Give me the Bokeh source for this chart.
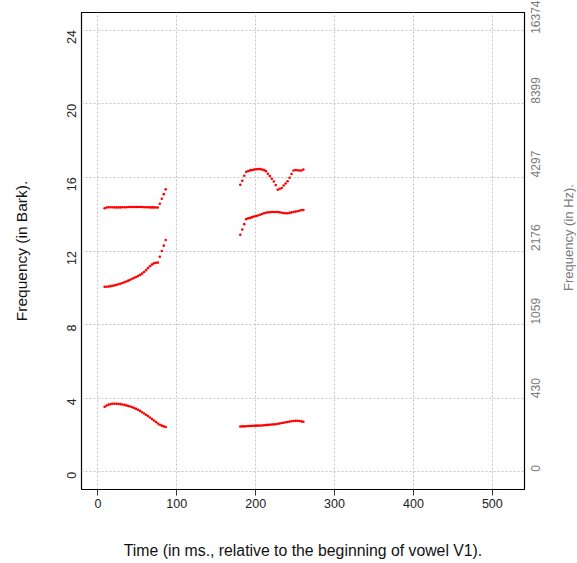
import math
from bokeh.plotting import figure
from bokeh.models import LinearAxis, FixedTicker, Range1d, Grid, Label
from bokeh.embed import file_html
from bokeh.resources import INLINE

# ---- data ----
t_v1 = [8.5, 11, 13.5, 16, 18.5, 21, 23.5, 26, 28.5, 31, 33.5, 36, 38.5, 41, 43.5, 46,
        48.5, 51, 53.5, 56, 58.5, 61, 63.5, 66, 68.5, 71, 73.5, 76, 78.5, 81, 83.5, 86]
f1_v1 = [3.53, 3.60, 3.65, 3.68, 3.70, 3.70, 3.70, 3.69, 3.68, 3.66, 3.64, 3.61, 3.58, 3.55,
         3.51, 3.47, 3.42, 3.37, 3.31, 3.24, 3.17, 3.10, 3.03, 2.95, 2.87, 2.79, 2.71, 2.63,
         2.56, 2.51, 2.47, 2.44]
f2_v1 = [10.06, 10.06, 10.07, 10.09, 10.11, 10.13, 10.16, 10.19, 10.22, 10.26, 10.30, 10.34,
         10.39, 10.44, 10.49, 10.54, 10.59, 10.64, 10.70, 10.77, 10.86, 10.96, 11.07, 11.17,
         11.26, 11.33, 11.36, 11.37, 11.69, 12.00, 12.29, 12.60]
f3_v1 = [14.32, 14.36, 14.38, 14.38, 14.38, 14.37, 14.37, 14.37, 14.37, 14.38, 14.38, 14.38,
         14.39, 14.39, 14.39, 14.39, 14.39, 14.39, 14.39, 14.39, 14.38, 14.38, 14.38, 14.37,
         14.37, 14.37, 14.36, 14.36, 14.57, 14.84, 15.09, 15.35]

t_v2 = [180.5, 183, 185.5, 188, 190.5, 193, 195.5, 198, 200.5, 203, 205.5, 208, 210.5, 213,
        215.5, 218, 220.5, 223, 225.5, 228, 230.5, 233, 235.5, 238, 240.5, 243, 245.5, 248,
        250.5, 253, 255.5, 258, 260.5]
f1_v2 = [2.46, 2.47, 2.47, 2.48, 2.49, 2.49, 2.50, 2.50, 2.51, 2.51, 2.52, 2.52, 2.53, 2.54,
         2.55, 2.56, 2.57, 2.58, 2.59, 2.61, 2.63, 2.65, 2.67, 2.69, 2.71, 2.73, 2.75, 2.76,
         2.77, 2.77, 2.76, 2.74, 2.72]
f2_v2 = [12.88, 13.17, 13.46, 13.73, 13.78, 13.80, 13.84, 13.87, 13.90, 13.93, 13.97, 14.01,
         14.05, 14.08, 14.10, 14.11, 14.12, 14.12, 14.12, 14.12, 14.10, 14.08, 14.06, 14.05,
         14.05, 14.07, 14.10, 14.12, 14.14, 14.16, 14.19, 14.23, 14.23]
f3_v2 = [15.60, 15.82, 16.09, 16.29, 16.35, 16.38, 16.40, 16.42, 16.44, 16.45, 16.45, 16.43,
         16.40, 16.34, 16.20, 16.07, 15.93, 15.78, 15.58, 15.33, 15.38, 15.42, 15.56, 15.67,
         15.79, 15.98, 16.18, 16.37, 16.40, 16.39, 16.37, 16.37, 16.43]

x_ticks = [0, 100, 200, 300, 400, 500]
bark_ticks = [0, 4, 8, 12, 16, 20, 24]
hz_labels = ["0", "430", "1059", "2176", "4297", "8399", "16374"]

FONT = "Liberation Sans"

X0, X1 = -20.8, 540.8
Y0, Y1 = -0.96, 24.96
FRAME_W = 443.0  # px width of the plotting frame

p = figure(width=577, height=563, output_backend="svg", toolbar_location=None,
           x_range=Range1d(X0, X1), y_range=Range1d(Y0, Y1),
           min_border_left=81, min_border_right=53, min_border_top=12, min_border_bottom=74,
           x_axis_location=None, y_axis_location=None)
p.outline_line_color = "black"
p.outline_line_width = 1.2
p.background_fill_color = "white"
p.border_fill_color = "white"

# bottom axis
xa = LinearAxis(ticker=FixedTicker(ticks=x_ticks),
                axis_label="Time (in ms., relative to the beginning of vowel V1).")
xa.axis_line_color = None
xa.major_tick_out = 6
xa.major_tick_in = 0
xa.minor_tick_out = 0
xa.minor_tick_in = 0
xa.major_tick_line_color = "#333333"
xa.major_label_standoff = 3
xa.major_label_text_font = FONT
xa.major_label_text_font_size = "12.5px"
xa.major_label_text_color = "#222222"
xa.axis_label_text_font = FONT
xa.axis_label_text_font_size = "15.8px"
xa.axis_label_text_font_style = "normal"
xa.axis_label_text_color = "#111111"
xa.axis_label_standoff = 31
p.add_layout(xa, "below")

# left axis (Bark)
ya = LinearAxis(ticker=FixedTicker(ticks=bark_ticks), axis_label="Frequency (in Bark).")
ya.axis_line_color = None
ya.major_tick_out = 0
ya.major_tick_in = 0
ya.minor_tick_out = 0
ya.minor_tick_in = 0
ya.major_label_orientation = math.pi / 2
ya.major_label_standoff = 10
ya.major_label_text_font = FONT
ya.major_label_text_font_size = "12.5px"
ya.major_label_text_color = "#222222"
ya.axis_label_text_font = FONT
ya.axis_label_text_font_size = "15.5px"
ya.axis_label_text_font_style = "normal"
ya.axis_label_text_color = "#111111"
ya.axis_label_standoff = 30
p.add_layout(ya, "left")

# right axis (Hz) - tick labels only; the title is drawn as a label
ra = LinearAxis(ticker=FixedTicker(ticks=bark_ticks))
ra.major_label_overrides = {b: h for b, h in zip(bark_ticks, hz_labels)}
ra.axis_line_color = None
ra.major_tick_out = 0
ra.major_tick_in = 0
ra.minor_tick_out = 0
ra.minor_tick_in = 0
ra.major_label_orientation = math.pi / 2
ra.major_label_standoff = 11
ra.major_label_text_font = FONT
ra.major_label_text_font_size = "12px"
ra.major_label_text_color = "#7a7a7a"
p.add_layout(ra, "right")

# right-side title, placed 44px to the right of the frame, centred vertically
hz_x = X1 + 44.0 / FRAME_W * (X1 - X0)
hz_y = Y1 - 225.0 / 477.0 * (Y1 - Y0)
p.add_layout(Label(x=hz_x, y=hz_y, text="Frequency (in Hz).", angle=math.pi / 2,
                   text_align="center", text_baseline="middle",
                   text_font=FONT, text_font_size="13px", text_color="#7a7a7a"), "right")

p.xgrid.visible = False
p.ygrid.visible = False
p.add_layout(Grid(dimension=0, ticker=FixedTicker(ticks=x_ticks),
                  grid_line_color="#c4c4c4", grid_line_dash="2 2", grid_line_width=1))
p.add_layout(Grid(dimension=1, ticker=FixedTicker(ticks=bark_ticks),
                  grid_line_color="#c4c4c4", grid_line_dash="2 2", grid_line_width=1))

for t, f in [(t_v1, f1_v1), (t_v1, f2_v1), (t_v1, f3_v1),
             (t_v2, f1_v2), (t_v2, f2_v2), (t_v2, f3_v2)]:
    p.scatter(t, f, marker="circle", size=2.6, fill_color="red", line_color=None)

open("out.html", "w").write(file_html(p, INLINE))
